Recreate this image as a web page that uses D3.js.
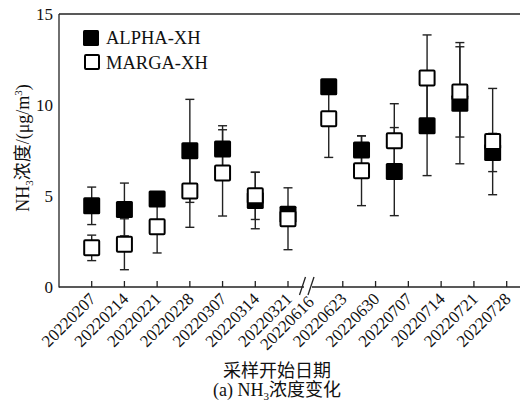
<!DOCTYPE html>
<html>
<head>
<meta charset="utf-8">
<script src="https://cdn.jsdelivr.net/npm/d3@7"></script>
<style>
  body { margin: 0; background: #fff; }
  svg { display: block; }
</style>
</head>
<body>
<svg id="chart" width="521" height="404"></svg>
<script>
// Weekly NH3 sampling results (µg/m³), two methods at site XH
const tickLabels = ["20220207", "20220214", "20220221", "20220228", "20220307", "20220314", "20220321",
                    "20220616", "20220623", "20220630", "20220707", "20220714", "20220721", "20220728"];
const breakLabel = "20220616";
const sampleDates = ["20220207", "20220214", "20220221", "20220228", "20220307", "20220314", "20220321",
                     "20220620", "20220627", "20220704", "20220711", "20220718", "20220725"];
const alphaMean = [4.46, 4.26, 4.83, 7.48, 7.58, 4.75, 4.00, 11.00, 7.53, 6.34, 8.86, 10.10, 7.39];
const alphaSd   = [1.03, 1.45, 0.30, 2.83, 1.28, 1.55, 0.30, 0.35, 0.77, 2.42, 2.74, 3.33, 1.05];
const margaMean = [2.15, 2.35, 3.31, 5.27, 6.27, 5.01, 3.75, 9.25, 6.39, 8.04, 11.48, 10.72, 7.99];
const margaSd   = [0.70, 1.40, 1.44, 1.99, 2.37, 1.30, 1.70, 2.13, 1.92, 2.03, 2.37, 2.48, 2.92];
const yTicks = [0, 5, 10, 15];
const seriesNames = ["ALPHA-XH", "MARGA-XH"];

const serif = "'Liberation Serif', 'Times New Roman', 'Noto Sans CJK SC', serif";
const ink = "#222";

const svg = d3.select("#chart");
const parse = d3.utcParse("%Y%m%d");

const plot = { left: 59, right: 520, top: 14, bottom: 287 };

// Broken time axis: Feb–Mar segment, gap, Jun–Jul segment
const x = d3.scaleUtc()
  .domain([parse("20220207"), parse("20220321"), parse("20220616"), parse("20220728")])
  .range([91.7, 288, 310, 506.7]);
const y = d3.scaleLinear().domain([0, 15]).range([plot.bottom, plot.top]);

const breakX = x(parse(breakLabel));

// Frame: left axis, top line, bottom axis with a gap at the break
const frame = svg.append("g").attr("stroke", ink).attr("stroke-width", 1.3).attr("fill", "none");
frame.append("line").attr("x1", plot.left).attr("x2", plot.left).attr("y1", plot.top).attr("y2", plot.bottom + 0.6);
frame.append("line").attr("x1", plot.left).attr("x2", plot.right).attr("y1", plot.top).attr("y2", plot.top);
frame.append("line").attr("x1", plot.left).attr("x2", breakX - 6).attr("y1", plot.bottom).attr("y2", plot.bottom);
frame.append("line").attr("x1", breakX + 2).attr("x2", plot.right).attr("y1", plot.bottom).attr("y2", plot.bottom);
// break marks "//"
[-7.5, 1].forEach(off => {
  frame.append("line")
    .attr("x1", breakX + off - 3).attr("y1", plot.bottom + 8)
    .attr("x2", breakX + off + 3).attr("y2", plot.bottom - 10);
});

// x ticks (inward) and rotated date labels
svg.append("g").selectAll("line")
  .data(tickLabels.filter(d => d !== breakLabel))
  .join("line")
  .attr("x1", d => x(parse(d))).attr("x2", d => x(parse(d)))
  .attr("y1", plot.bottom).attr("y2", plot.bottom - 6)
  .attr("stroke", ink).attr("stroke-width", 1.3);

svg.append("g").selectAll("text")
  .data(tickLabels)
  .join("text")
  .attr("transform", d => `translate(${x(parse(d)) + 5},${plot.bottom + 13 + (d === breakLabel ? 3 : 0)}) rotate(-45)`)
  .attr("text-anchor", "end")
  .attr("font-family", serif)
  .attr("font-size", 17)
  .attr("fill", "#111")
  .text(d => d);

// y tick labels (no tick marks)
svg.append("g").selectAll("text")
  .data(yTicks)
  .join("text")
  .attr("x", plot.left - 6)
  .attr("y", d => y(d))
  .attr("dy", "0.35em")
  .attr("text-anchor", "end")
  .attr("font-family", serif)
  .attr("font-size", 17)
  .attr("fill", "#111")
  .text(d => d);

// Data rows
const rows = sampleDates.map((d, i) => ({
  date: parse(d),
  a: alphaMean[i], aSd: alphaSd[i],
  m: margaMean[i], mSd: margaSd[i]
}));

const capW = 9;
const errG = svg.append("g").attr("stroke", "#222").attr("stroke-width", 1.4);
function errorBars(getMean, getSd) {
  const g = errG.append("g");
  g.selectAll("line.v").data(rows).join("line").attr("class", "v")
    .attr("x1", d => x(d.date)).attr("x2", d => x(d.date))
    .attr("y1", d => y(getMean(d) + getSd(d))).attr("y2", d => y(getMean(d) - getSd(d)));
  g.selectAll("line.t").data(rows).join("line").attr("class", "t")
    .attr("x1", d => x(d.date) - capW / 2).attr("x2", d => x(d.date) + capW / 2)
    .attr("y1", d => y(getMean(d) + getSd(d))).attr("y2", d => y(getMean(d) + getSd(d)));
  g.selectAll("line.b").data(rows).join("line").attr("class", "b")
    .attr("x1", d => x(d.date) - capW / 2).attr("x2", d => x(d.date) + capW / 2)
    .attr("y1", d => y(getMean(d) - getSd(d))).attr("y2", d => y(getMean(d) - getSd(d)));
}
errorBars(d => d.a, d => d.aSd);
errorBars(d => d.m, d => d.mSd);

const box = 17;
// ALPHA: filled squares
svg.append("g").selectAll("rect").data(rows).join("rect")
  .attr("x", d => x(d.date) - box / 2).attr("y", d => y(d.a) - box / 2)
  .attr("width", box).attr("height", box).attr("rx", 1.5)
  .attr("fill", "#000");
// MARGA: open squares drawn on top
svg.append("g").selectAll("rect").data(rows).join("rect")
  .attr("x", d => x(d.date) - (box - 2) / 2).attr("y", d => y(d.m) - (box - 2) / 2)
  .attr("width", box - 2).attr("height", box - 2).attr("rx", 1)
  .attr("fill", "#fff").attr("stroke", "#000").attr("stroke-width", 2);

// Legend
const lg = svg.append("g").attr("font-family", serif).attr("font-size", 18.5).attr("fill", "#111");
lg.append("rect").attr("x", 83).attr("y", 30).attr("width", 16).attr("height", 16).attr("rx", 1.5).attr("fill", "#000");
lg.append("text").attr("x", 106).attr("y", 44).text(seriesNames[0]);
lg.append("rect").attr("x", 85).attr("y", 55).attr("width", 14).attr("height", 14).attr("rx", 1)
  .attr("fill", "#fff").attr("stroke", "#000").attr("stroke-width", 2);
lg.append("text").attr("x", 106).attr("y", 69).text(seriesNames[1]);

// Y axis title: NH3浓度/(μg/m3)
const yt = svg.append("text")
  .attr("transform", "translate(29,148) rotate(-90)")
  .attr("text-anchor", "middle")
  .attr("font-family", serif).attr("font-size", 18).attr("fill", "#111");
yt.append("tspan").text("NH");
yt.append("tspan").attr("font-size", 11).attr("dy", 4).text("3");
yt.append("tspan").attr("dy", -4).text("浓度/(μg/m");
yt.append("tspan").attr("font-size", 11).attr("dy", -7).text("3");
yt.append("tspan").attr("dy", 7).text(")");

// X axis title and caption
svg.append("text").attr("x", 277).attr("y", 377).attr("text-anchor", "middle")
  .attr("font-family", serif).attr("font-size", 18).attr("fill", "#111")
  .text("采样开始日期");
const cap = svg.append("text").attr("x", 277).attr("y", 396).attr("text-anchor", "middle")
  .attr("font-family", serif).attr("font-size", 18).attr("fill", "#111");
cap.append("tspan").text("(a) NH");
cap.append("tspan").attr("font-size", 11).attr("dy", 4).text("3");
cap.append("tspan").attr("dy", -4).text("浓度变化");
</script>
</body>
</html>
